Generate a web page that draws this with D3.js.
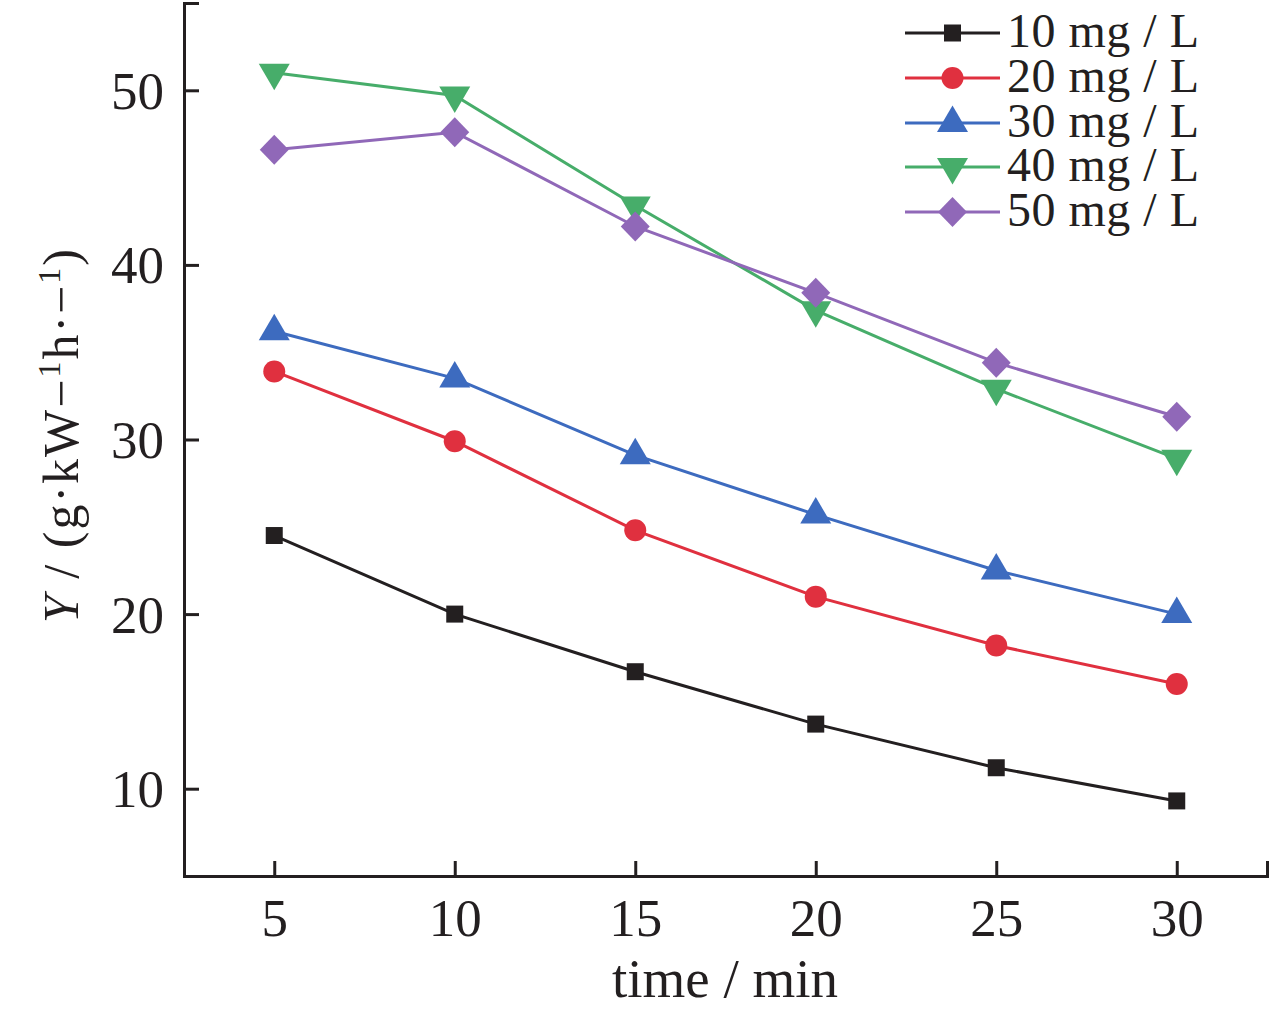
<!DOCTYPE html>
<html><head><meta charset="utf-8">
<script src="https://cdn.jsdelivr.net/npm/d3@7"></script>
<style>body{margin:0;background:#fff}svg{display:block}text{font-family:"Liberation Serif","Times New Roman",serif;fill:#231f20}</style>
</head><body>
<svg id="c" width="1280" height="1018"></svg>
<script>
const times = [5, 10, 15, 20, 25, 30];
const seriesNames = ["10 mg / L", "20 mg / L", "30 mg / L", "40 mg / L", "50 mg / L"];
const s10 = [24.5, 20.0, 16.7, 13.7, 11.2, 9.3];
const s20 = [33.9, 29.9, 24.8, 21.0, 18.2, 16.0];
const s30 = [36.2, 33.5, 29.1, 25.7, 22.5, 20.0];
const s40 = [51.0, 49.7, 43.4, 37.4, 32.9, 28.9];
const s50 = [46.6, 47.6, 42.2, 38.4, 34.4, 31.3];
const colors = ["#231f20", "#e0303f", "#3d6bbf", "#47ad6a", "#9068b8"];
const xTicks = [5, 10, 15, 20, 25, 30];
const yTicks = [10, 20, 30, 40, 50];

const allSeries = [s10, s20, s30, s40, s50];
const svg = d3.select("#c");
const L = 184, R = 1267, T = 3, B = 876;
const x = d3.scaleLinear().domain([2.5, 32.5]).range([L, R]);
const y = d3.scaleLinear().domain([5, 55]).range([B, T]);

// axes
const ax = svg.append("g").attr("transform", `translate(0,${B})`)
  .call(d3.axisBottom(x).tickValues(xTicks.concat([32.5])).tickSize(-15).tickPadding(22).tickFormat(d => xTicks.includes(d) ? d : ""));
const ay = svg.append("g").attr("transform", `translate(${L},0)`)
  .call(d3.axisLeft(y).tickValues(yTicks.concat([55])).tickSize(-15).tickPadding(20).tickFormat(d => yTicks.includes(d) ? d : ""));
[ax, ay].forEach(g => {
  g.select(".domain").attr("stroke", "#231f20").attr("stroke-width", 3);
  g.selectAll(".tick line").attr("stroke", "#231f20").attr("stroke-width", 3);
  g.selectAll(".tick text").attr("font-size", 53).attr("fill", "#231f20").style("font-family", '"Liberation Serif", serif');
});
ax.selectAll(".tick text").attr("dy", "0.71em");
ay.selectAll(".tick text").attr("dy", "0.34em");

// axis titles
svg.append("text").attr("x", 725).attr("y", 997).attr("text-anchor", "middle").attr("font-size", 55).text("time / min");
const yl = svg.append("text").attr("transform", `translate(78,${435}) rotate(-90)`).attr("text-anchor", "middle").attr("font-size", 50).attr("letter-spacing", 2);
yl.append("tspan").attr("font-style", "italic").text("Y");
yl.append("tspan").text(" / (g·kW");
yl.append("tspan").text("−");
yl.append("tspan").attr("font-size", 32).attr("dy", -18).text("1");
yl.append("tspan").attr("dy", 18).text("h·");
yl.append("tspan").text("−");
yl.append("tspan").attr("font-size", 32).attr("dy", -18).text("1");
yl.append("tspan").attr("dy", 18).text(")");

// markers
const markerPaths = [
  "M-8.5,-8.5H8.5V8.5H-8.5Z",
  d3.symbol().type(d3.symbolCircle).size(Math.PI * 11 * 11)(),
  "M0,-17.5L15.5,9L-15.5,9Z",
  "M0,17.5L15.5,-9L-15.5,-9Z",
  "M0,-15L14.5,0L0,15L-14.5,0Z"
];
function marker(g, i, cx, cy) {
  g.append("path").attr("d", markerPaths[i]).attr("transform", `translate(${cx},${cy})`).attr("fill", colors[i]);
}

const line = d3.line().x((d, j) => x(times[j])).y(d => y(d));
allSeries.forEach((s, i) => {
  const g = svg.append("g");
  g.append("path").attr("d", line(s)).attr("fill", "none").attr("stroke", colors[i]).attr("stroke-width", 3);
  s.forEach((v, j) => marker(g, i, x(times[j]), y(v)));
});

// legend
const legY = [33, 78, 123, 167, 212];
seriesNames.forEach((n, i) => {
  const g = svg.append("g");
  g.append("line").attr("x1", 905).attr("x2", 1000).attr("y1", legY[i]).attr("y2", legY[i]).attr("stroke", colors[i]).attr("stroke-width", 3);
  marker(g, i, 952.5, legY[i]);
  g.append("text").attr("x", 1007).attr("y", legY[i]).attr("dy", "0.30em").attr("font-size", 48).attr("letter-spacing", 0.5).text(n);
});
</script>
</body></html>
